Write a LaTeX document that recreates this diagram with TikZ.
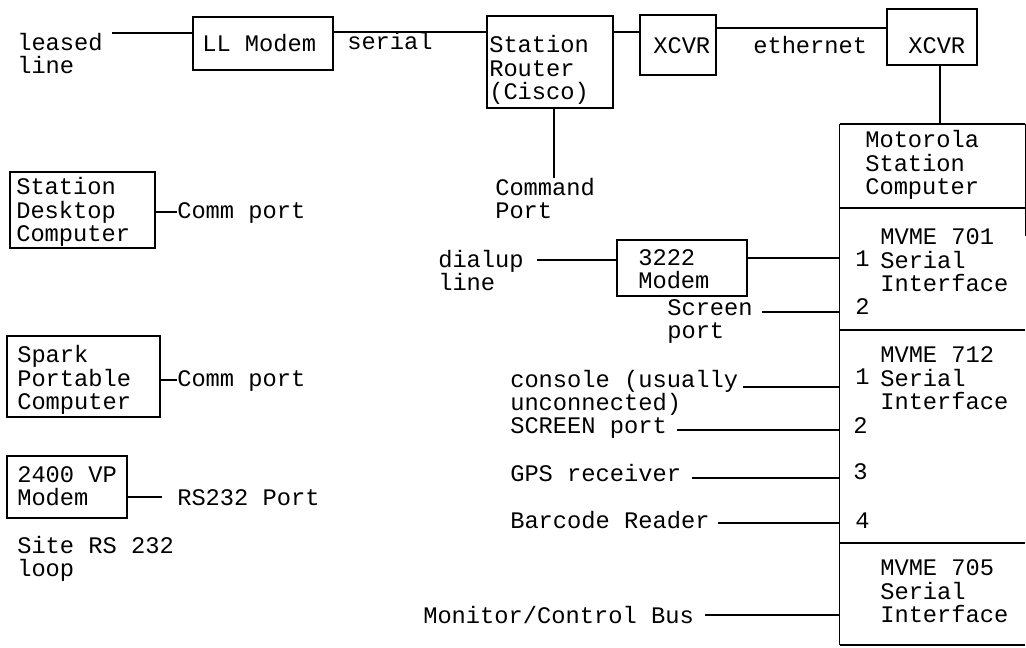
\documentclass[tikz,border=0pt]{standalone}
\usepackage{fontspec}
\setmainfont{Liberation Mono}
\usetikzlibrary{fit}
\begin{document}
\begin{tikzpicture}[x=0.75pt,y=-0.75pt,
  txt/.style={inner sep=0pt, anchor=base west, align=left, font=\fontsize{17.8pt}{17.9pt}\selectfont},
  box/.style={draw, line width=1.5pt, inner sep=0pt},
  wire/.style={line width=1.6pt},
  thinedge/.style={line width=0.9pt}]
\useasboundingbox (0,0) rectangle (1026,648);

% ---- boxes ----
\node[box, fit={(193,17) (333,70)}] (LL) {};
\node[box, fit={(487,16) (613,108)}] (router) {};
\node[box, fit={(640,15) (716,75)}] (xcvrA) {};
\node[box, fit={(887,9) (977,65)}] (xcvrB) {};
\node[box, fit={(10,172) (155,248)}] (desk) {};
\node[box, fit={(7,336) (160,417)}] (spark) {};
\node[box, fit={(7,456) (127,518)}] (vp) {};
\node[box, fit={(617,240) (747,296)}] (mdm) {};
\node[inner sep=0pt, fit={(840,124) (1025,645)}] (moto) {};

% Motorola station computer outline
\draw[line width=1.5pt] (moto.north west) -- (moto.north east);
\draw[thinedge] (moto.north west) -- (moto.south west);
\draw[thinedge] (moto.north east) -- ([yshift=-84]moto.north east);
\draw[line width=1.5pt] (moto.south west) -- (moto.south east);
\coordinate (d1) at (840,208);
\coordinate (d2) at (840,330);
\coordinate (d3) at (840,543);
\draw[line width=1.5pt] (d1) -- (d1 -| moto.east);
\draw[line width=1.5pt] (d2) -- (d2 -| moto.east);
\draw[line width=1.5pt] (d3) -- (d3 -| moto.east);

% ---- texts (y = baseline of the last line) ----
\node[txt] (leased) at (17,74) {leased\\line};
\node[txt] at (202,52) {LL Modem};
\node[txt] (serial) at (347,50) {serial};
\node[txt] at (489,100) {Station\\Router\\(Cisco)};
\node[txt] at (653,54) {XCVR};
\node[txt] (ether) at (753,54) {ethernet};
\node[txt] at (908,54) {XCVR};
\node[txt] (cmd) at (495,219) {Command\\Port};
\node[txt] at (865,195) {Motorola\\Station\\Computer};
\node[txt] at (880,292) {MVME 701\\Serial\\Interface};
\node[txt] at (880,410) {MVME 712\\Serial\\Interface};
\node[txt] at (880,623) {MVME 705\\Serial\\Interface};
\node[txt] (p11) at (855,267) {1};
\node[txt] (p12) at (855,315) {2};
\node[txt] (p21) at (855,385) {1};
\node[txt] (p22) at (853,434) {2};
\node[txt] (p23) at (853,480) {3};
\node[txt] (p24) at (855,529) {4};

\node[txt] at (16,242) {Station\\Desktop\\Computer};
\node[txt] (cp1) at (177,219) {Comm port};
\node[txt] at (17,410) {Spark\\Portable\\Computer};
\node[txt] (cp2) at (177,387) {Comm port};
\node[txt] at (17,506) {2400 VP\\Modem};
\node[txt] (rs) at (177,506) {RS232 Port};
\node[txt] at (17,577) {Site RS 232\\loop};

\node[txt] (dial) at (438,291) {dialup\\line};
\node[txt] at (638,289) {3222\\Modem};
\node[txt] (scr) at (667,339) {Screen\\port};
\node[txt] (cons) at (510,411) {console (usually\\unconnected)};
\node[txt] (SCR) at (510,434) {SCREEN port};
\node[txt] (gps) at (510,482) {GPS receiver};
\node[txt] (bar) at (510,529) {Barcode Reader};
\node[txt] (mon) at (423,624) {Monitor/Control Bus};

% ---- connector ends ----
\coordinate (eLeased) at (112,33);
\coordinate (y32) at (0,32);
\coordinate (y28) at (0,28);
\coordinate (x940) at (940,0);
\coordinate (eCmd) at (554,178);
\coordinate (eDesk) at (177,212);
\coordinate (eSpark) at (177,380);
\coordinate (eVp) at (162,497);
\coordinate (y258) at (0,258);
\coordinate (eDial) at (537,260);
\coordinate (eScr) at (762,312);
\coordinate (eCons) at (743,387);
\coordinate (eSCR) at (677,430);
\coordinate (eGps) at (692,478);
\coordinate (eBar) at (718,523);
\coordinate (eMon) at (705,615);

% ---- connectors ----
\draw[wire] (eLeased) -- (eLeased -| LL.west);
\draw[wire] (LL.east |- y32) -- (router.west |- y32);
\draw[wire] (router.east |- y32) -- (xcvrA.west |- y32);
\draw[wire] (xcvrA.east |- y28) -- (xcvrB.west |- y28);
\draw[wire] (xcvrB.south -| x940) -- (moto.north -| x940);
\draw[wire] (router.south -| eCmd) -- (eCmd);
\draw[wire] (desk.east |- eDesk) -- (eDesk);
\draw[wire] (spark.east |- eSpark) -- (eSpark);
\draw[wire] (vp.east |- eVp) -- (eVp);
\draw[wire] (eDial) -- (eDial -| mdm.west);
\draw[wire] (mdm.east |- y258) -- (moto.west |- y258);
\draw[wire] (eScr) -- (eScr -| moto.west);
\draw[wire] (eCons) -- (eCons -| moto.west);
\draw[wire] (eSCR) -- (eSCR -| moto.west);
\draw[wire] (eGps) -- (eGps -| moto.west);
\draw[wire] (eBar) -- (eBar -| moto.west);
\draw[wire] (eMon) -- (eMon -| moto.west);
\end{tikzpicture}
\end{document}
